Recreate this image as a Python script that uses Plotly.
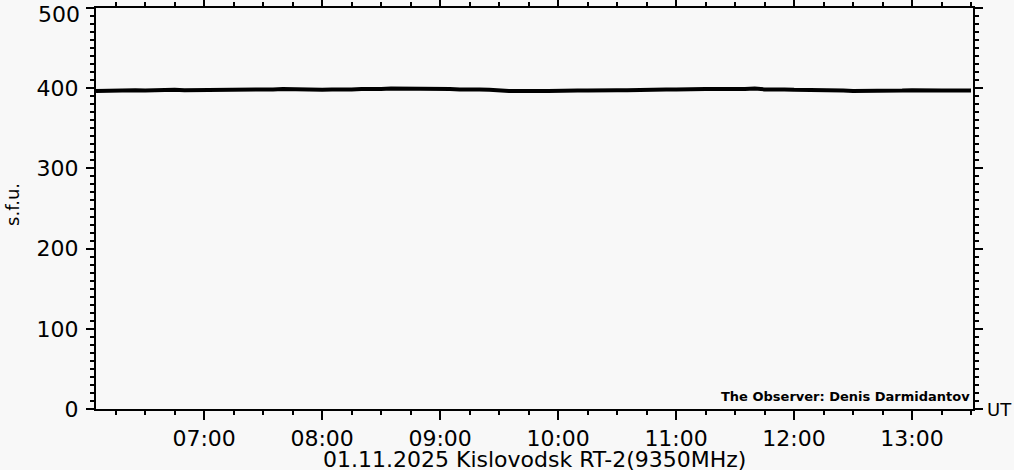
import pandas as pd
import plotly.graph_objects as go

# Flux (s.f.u.) every 5 minutes, 06:05 .. 13:30 UT
start_time = "2025-11-01 06:05"
step = "5min"
flux_sfu = [
    396.5, 397, 396.5, 397, 397.5, 397, 397.5, 397, 398, 397.5, 397.5, 398,
    397.5, 398, 398.5, 398, 398.5, 398, 398.5, 399, 398.5, 398, 398.5,
    398, 398.5, 398, 398.5, 399, 398.5, 399, 399.5, 399.5, 400, 400, 399.5,
    399.5, 399, 398.5, 399, 398.5, 398, 397, 396.5, 396.5, 396, 396.5, 396.5,
    397, 396.5, 397, 397, 397.5, 397, 397.5, 397.5, 398, 397.5, 398, 398.5,
    398.5, 399, 399.5, 399, 399, 399.5, 399, 399, 399.5, 398.5, 399, 398.5,
    398, 398, 398, 397.5, 397.5, 397, 396.5, 396.5, 396, 396.5, 397, 397,
    397.5, 397, 397.5, 397, 397, 396.5, 397,
]
times = pd.date_range(start_time, periods=len(flux_sfu), freq=step)

x_range = ["2025-11-01 06:05", "2025-11-01 13:31"]
y_range = [0, 500]
y_tickvals = [0, 100, 200, 300, 400, 500]
y_ticktext = ["0", "100", "200", "300", "400", ""]   # top label drawn below its tick
top_label = "500"
x_title = "01.11.2025 Kislovodsk RT-2(9350MHz)"
y_title = "s.f.u."
observer = "The Observer: Denis Darmidantov"

bg = "#f8f8f8"
font = "DejaVu Sans"

fig = go.Figure()
fig.add_trace(go.Scatter(
    x=times, y=flux_sfu, mode="lines",
    line=dict(color="black", width=4),
    showlegend=False, hoverinfo="skip",
))

axis_common = dict(
    showgrid=False, zeroline=False,
    showline=True, linecolor="black", linewidth=2,
    ticks="outside", tickcolor="black", tickwidth=2,
    mirror="allticks",
    tickfont=dict(family=font, size=22, color="black"),
)

fig.update_xaxes(
    **axis_common,
    type="date", range=x_range,
    tick0="2025-11-01 07:00", dtick=3600000, tickformat="%H:%M",
    ticklen=9,
    minor=dict(dtick=900000, tick0="2025-11-01 07:00", ticks="outside",
               ticklen=4, tickcolor="black", tickwidth=2, showgrid=False),
)
fig.update_yaxes(
    **axis_common,
    range=y_range, tickmode="array", tickvals=y_tickvals, ticktext=y_ticktext,
    ticklen=8, ticklabelstandoff=3, ticklabeloverflow="allow",
    minor=dict(dtick=10, tick0=0, ticks="outside", ticklen=4,
               tickcolor="black", tickwidth=2, showgrid=False),
)

fig.update_layout(
    width=1014, height=470,
    margin=dict(l=96, r=41, t=8, b=61, autoexpand=False),
    paper_bgcolor=bg, plot_bgcolor=bg,
    font=dict(family=font, color="black"),
    annotations=[
        dict(text=top_label, xref="paper", yref="y", x=0, y=y_range[1],
             xanchor="right", yanchor="middle", xshift=-14, yshift=-6,
             showarrow=False, font=dict(family=font, size=22, color="black")),
        dict(text=x_title, xref="paper", yref="paper", x=0.5, y=0,
             xanchor="center", yanchor="middle", yshift=-50, showarrow=False,
             font=dict(family=font, size=22, color="black")),
        dict(text=y_title, xref="paper", yref="paper", x=0, y=0.509,
             xanchor="center", yanchor="middle", xshift=-83, textangle=-90,
             showarrow=False, font=dict(family=font, size=18, color="black")),
        dict(text="UT", xref="paper", yref="paper", x=1, y=0,
             xanchor="left", yanchor="middle", xshift=12, showarrow=False,
             font=dict(family=font, size=18, color="black")),
        dict(text="<b>" + observer + "</b>", xref="paper", yref="paper",
             x=1, y=0, xanchor="right", yanchor="bottom", xshift=-1, yshift=3,
             showarrow=False, font=dict(family=font, size=13, color="black")),
    ],
)

fig.write_html(
    "out.html",
    config={"displayModeBar": False},
    post_script="document.body.style.margin='0';document.body.style.background='%s';" % bg,
)
